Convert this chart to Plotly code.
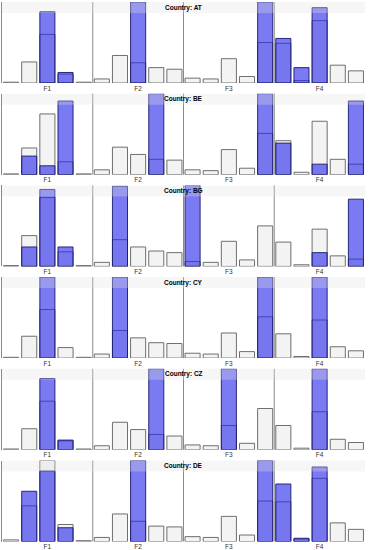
import plotly.graph_objects as go

W, H = 373, 550

countries = ["AT", "BE", "BG", "CY", "CZ", "DE"]
groups = ["F1", "F2", "F3", "F4"]
levels = ["1", "2", "3", "4", "5"]
categories = [f"{g}-{l}" for g in groups for l in levels]

# grey (base) series per country, 20 bars each (5 per group F1..F4)
gray_AT = [1, 26, 60, 11, 1, 5, 34, 25, 19, 17, 6, 5, 30, 8, 50, 49, 3, 77, 22, 15]
blue_AT = [0, 0, 88, 13, 0, 0, 0, 100, 0, 0, 0, 0, 0, 0, 100, 55, 19, 93, 0, 0]

gray_BE = [1, 33, 75, 16, 1, 6, 34, 25, 19, 18, 6, 5, 31, 8, 51, 42, 3, 66, 19, 13]
blue_BE = [0, 23, 11, 91, 0, 0, 0, 0, 100, 0, 0, 0, 0, 0, 100, 39, 0, 13, 0, 91]

gray_BG = [1, 38, 85, 18, 1, 5, 33, 24, 19, 17, 6, 5, 31, 8, 50, 30, 2, 46, 13, 9]
blue_BG = [0, 24, 95, 24, 0, 0, 99, 0, 0, 0, 100, 0, 0, 0, 0, 0, 0, 17, 0, 83]

gray_CY = [1, 27, 60, 13, 1, 5, 34, 25, 19, 18, 6, 5, 31, 8, 51, 30, 2, 47, 14, 9]
blue_CY = [0, 0, 100, 0, 0, 0, 100, 0, 0, 0, 0, 0, 0, 0, 100, 0, 0, 100, 0, 0]

gray_CZ = [1, 26, 60, 11, 1, 5, 34, 25, 19, 17, 6, 5, 30, 8, 51, 30, 2, 47, 13, 9]
blue_CZ = [0, 0, 88, 12, 0, 0, 0, 0, 100, 0, 0, 0, 100, 0, 0, 0, 0, 100, 0, 0]

gray_DE = [2, 44, 100, 21, 1, 5, 34, 25, 19, 18, 6, 5, 31, 8, 50, 49, 3, 78, 23, 15]
blue_DE = [0, 62, 87, 17, 0, 0, 0, 100, 0, 0, 0, 0, 0, 0, 100, 71, 4, 92, 0, 0]

gray_series = [gray_AT, gray_BE, gray_BG, gray_CY, gray_CZ, gray_DE]
blue_series = [blue_AT, blue_BE, blue_BG, blue_CY, blue_CZ, blue_DE]
y_max = 100

fig = go.Figure()
layout = {}
shapes = []
annotations = []

x_left, x_right = 2, 365
top0, pitch, ph = 2, 91.7, 81
strip_h = 11

for i, c in enumerate(countries):
    n = "" if i == 0 else str(i + 1)
    xa, ya = "x" + n, "y" + n
    top = top0 + pitch * i
    y0 = 1 - (top + ph) / H
    y1 = 1 - top / H

    fig.add_trace(go.Bar(
        x=categories, y=gray_series[i], xaxis=xa, yaxis=ya,
        marker=dict(color="#f3f3f3", line=dict(color="#6e6e6e", width=1)),
        hoverinfo="skip", showlegend=False))
    fig.add_trace(go.Bar(
        x=categories, y=[v if v else None for v in blue_series[i]], xaxis=xa, yaxis=ya,
        marker=dict(color="rgba(40,40,235,0.62)", line=dict(color="rgba(25,25,110,0.9)", width=1)),
        hoverinfo="skip", showlegend=False))

    layout["xaxis" + n] = dict(
        domain=[x_left / W, x_right / W], anchor=ya, type="category",
        categoryorder="array", categoryarray=categories,
        range=[-0.5, len(categories) - 0.5],
        tickvals=[categories[2], categories[7], categories[12], categories[17]],
        ticktext=groups, ticks="", showgrid=False, zeroline=False, showline=False,
        tickfont=dict(family="Liberation Sans, Arial, sans-serif", size=6.5, color="#333"),
        fixedrange=True)
    layout["yaxis" + n] = dict(
        domain=[y0, y1], anchor=xa, range=[0, y_max], showticklabels=False,
        showgrid=False, zeroline=False, showline=True, linecolor="#8a8a8a",
        linewidth=1, ticks="", fixedrange=True)

    for sep in (4.5, 9.5, 14.5):
        shapes.append(dict(type="line", xref=xa, yref=ya + " domain",
                           x0=sep, x1=sep, y0=0, y1=1,
                           line=dict(color="#8a8a8a", width=1), layer="below"))
    shapes.append(dict(type="rect", xref=xa + " domain", yref=ya + " domain",
                       x0=0, x1=1, y0=1 - strip_h / ph, y1=1,
                       fillcolor="rgba(225,225,225,0.3)", line=dict(width=0),
                       layer="above"))
    annotations.append(dict(xref=xa + " domain", yref=ya + " domain",
                            x=0.5, y=1 - (strip_h / 2) / ph,
                            text=f"<b>Country: {c}</b>", showarrow=False,
                            xanchor="center", yanchor="middle",
                            font=dict(family="Liberation Sans, Arial, sans-serif",
                                      size=6.5, color="#000")))

fig.update_layout(**layout)
fig.update_layout(
    width=W, height=H, margin=dict(l=0, r=0, t=0, b=0),
    barmode="overlay", bargap=0.17,
    plot_bgcolor="white", paper_bgcolor="white",
    shapes=shapes, annotations=annotations, showlegend=False)

fig.write_html(
    "out.html", config={"displayModeBar": False},
    post_script="document.body.style.margin='0';document.body.style.padding='0';")
